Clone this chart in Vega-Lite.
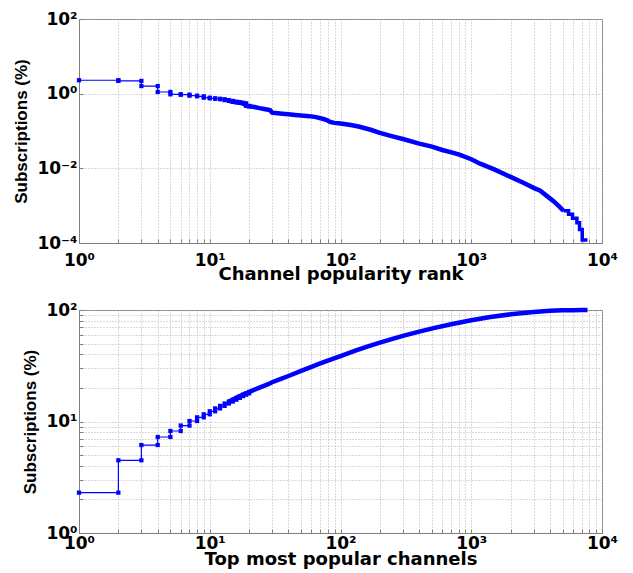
{
  "$schema": "https://vega.github.io/schema/vega-lite/v6.json",
  "background": "white",
  "padding": {"left": 12, "top": 9, "right": 10, "bottom": 0},
  "spacing": 16,
  "config": {
    "view": {"stroke": "#808080", "strokeWidth": 1},
    "axis": {
      "labelFont": "DejaVu Sans", "labelFontWeight": "bold", "labelFontSize": 17, "labelColor": "black",
      "titleFont": "DejaVu Sans", "titleFontWeight": "bold", "titleFontSize": 18, "titleColor": "black",
      "grid": true, "gridColor": "#b4b4b4", "gridDash": [1, 2], "gridWidth": 1,
      "ticks": true, "tickSize": -4, "tickColor": "#808080", "domainColor": "#808080", "labelOverlap": false, "labelFlush": false
    },
    "axisY": {"labelPadding": 6, "titleFont": "Liberation Sans", "titleFontSize": 17, "titlePadding": 6}
  },
  "datasets": {
    "pop": [
      {"rank": 1, "pct": 2.29}, {"rank": 2, "pct": 2.2}, {"rank": 3, "pct": 1.6}, {"rank": 4, "pct": 1.11},
      {"rank": 5, "pct": 0.96}, {"rank": 6, "pct": 0.94}, {"rank": 7, "pct": 0.885}, {"rank": 8, "pct": 0.85},
      {"rank": 9, "pct": 0.78}, {"rank": 10, "pct": 0.75}, {"rank": 11, "pct": 0.73}, {"rank": 12, "pct": 0.71},
      {"rank": 13, "pct": 0.67}, {"rank": 14, "pct": 0.64}, {"rank": 15, "pct": 0.61}, {"rank": 16, "pct": 0.59},
      {"rank": 17, "pct": 0.57}, {"rank": 18, "pct": 0.55}, {"rank": 19, "pct": 0.47}, {"rank": 20, "pct": 0.46},
      {"rank": 22, "pct": 0.44}, {"rank": 24, "pct": 0.41}, {"rank": 26, "pct": 0.39}, {"rank": 28, "pct": 0.37},
      {"rank": 29, "pct": 0.36}, {"rank": 30, "pct": 0.31}, {"rank": 33, "pct": 0.3}, {"rank": 36, "pct": 0.29},
      {"rank": 40, "pct": 0.28}, {"rank": 45, "pct": 0.27}, {"rank": 50, "pct": 0.26}, {"rank": 58, "pct": 0.25},
      {"rank": 65, "pct": 0.235}, {"rank": 74, "pct": 0.21}, {"rank": 80, "pct": 0.19}, {"rank": 83, "pct": 0.175},
      {"rank": 90, "pct": 0.165}, {"rank": 100, "pct": 0.158}, {"rank": 120, "pct": 0.145}, {"rank": 140, "pct": 0.13},
      {"rank": 170, "pct": 0.108}, {"rank": 200, "pct": 0.089}, {"rank": 250, "pct": 0.072}, {"rank": 300, "pct": 0.061},
      {"rank": 400, "pct": 0.046}, {"rank": 500, "pct": 0.038}, {"rank": 600, "pct": 0.031}, {"rank": 730, "pct": 0.026},
      {"rank": 820, "pct": 0.023}, {"rank": 1000, "pct": 0.0175}, {"rank": 1170, "pct": 0.0133}, {"rank": 1500, "pct": 0.0094},
      {"rank": 2000, "pct": 0.0059}, {"rank": 2500, "pct": 0.0041}, {"rank": 3000, "pct": 0.003}, {"rank": 3370, "pct": 0.0025},
      {"rank": 3800, "pct": 0.0018}, {"rank": 4260, "pct": 0.00132}, {"rank": 4700, "pct": 0.00095}, {"rank": 5079, "pct": 0.00073},
      {"rank": 5550, "pct": 0.00059}, {"rank": 5953, "pct": 0.00046}, {"rank": 6430, "pct": 0.00035}, {"rank": 6732, "pct": 0.00023},
      {"rank": 7060, "pct": 0.00012}, {"rank": 7746, "pct": 0.00012}
    ],
    "cum": [
      {"rank": 1, "pct": 2.3}, {"rank": 2, "pct": 4.49}, {"rank": 3, "pct": 6.15}, {"rank": 4, "pct": 7.26},
      {"rank": 5, "pct": 8.22}, {"rank": 6, "pct": 9.2}, {"rank": 7, "pct": 10.1}, {"rank": 8, "pct": 10.9},
      {"rank": 9, "pct": 11.6}, {"rank": 10, "pct": 12.35}, {"rank": 11, "pct": 13.1}, {"rank": 12, "pct": 13.8},
      {"rank": 13, "pct": 14.5}, {"rank": 14, "pct": 15.1}, {"rank": 15, "pct": 15.7}, {"rank": 16, "pct": 16.3},
      {"rank": 17, "pct": 16.9}, {"rank": 18, "pct": 17.4}, {"rank": 19, "pct": 17.9}, {"rank": 20, "pct": 18.4},
      {"rank": 22, "pct": 19.3}, {"rank": 24, "pct": 20.1}, {"rank": 26, "pct": 20.9}, {"rank": 28, "pct": 21.6},
      {"rank": 30, "pct": 22.5}, {"rank": 35, "pct": 24.1}, {"rank": 40, "pct": 25.6}, {"rank": 50, "pct": 28.4},
      {"rank": 60, "pct": 30.9}, {"rank": 70, "pct": 33.2}, {"rank": 80, "pct": 35.2}, {"rank": 100, "pct": 38.6},
      {"rank": 130, "pct": 43.2}, {"rank": 160, "pct": 46.9}, {"rank": 200, "pct": 50.9}, {"rank": 250, "pct": 55.0},
      {"rank": 300, "pct": 58.6}, {"rank": 400, "pct": 63.9}, {"rank": 515, "pct": 68.7}, {"rank": 700, "pct": 74.4},
      {"rank": 1000, "pct": 80.8}, {"rank": 1400, "pct": 86.4}, {"rank": 2000, "pct": 91.5}, {"rank": 3000, "pct": 96},
      {"rank": 4000, "pct": 98.3}, {"rank": 5000, "pct": 99.3}, {"rank": 6000, "pct": 99.7}, {"rank": 7000, "pct": 99.9},
      {"rank": 7746, "pct": 100}
    ]
  },
  "vconcat": [
    {
      "width": 523, "height": 224,
      "data": {"name": "pop"},
      "encoding": {
        "x": {"field": "rank", "type": "quantitative", "title": "Channel popularity rank",
          "scale": {"type": "log", "domain": [1, 10000], "nice": false},
          "axis": {"labelPadding": 13, "titlePadding": -3,
            "values": [1,2,3,4,5,6,7,8,9,10,20,30,40,50,60,70,80,90,100,200,300,400,500,600,700,800,900,1000,2000,3000,4000,5000,6000,7000,8000,9000,10000],
            "labelExpr": "datum.value == 1 ? '10⁰' : datum.value == 10 ? '10¹' : datum.value == 100 ? '10²' : datum.value == 1000 ? '10³' : datum.value == 10000 ? '10⁴' : ''"}},
        "y": {"field": "pct", "type": "quantitative", "title": "Subscriptions (%)",
          "scale": {"type": "log", "domain": [0.0001, 100], "nice": false},
          "axis": {"values": [0.0001, 0.01, 1, 100],
            "labelExpr": "datum.value == 100 ? '10²' : datum.value == 1 ? '10⁰' : datum.value == 0.01 ? '10⁻²' : '10⁻⁴'"}}
      },
      "layer": [
        {"transform": [{"filter": "datum.rank <= 20"}],
          "mark": {"type": "line", "interpolate": "step-after", "color": "#0000ff", "strokeWidth": 1.2}},
        {"transform": [{"filter": "datum.rank >= 14 && datum.rank <= 5079"}],
          "mark": {"type": "line", "color": "#0000ff", "strokeWidth": 4.5}},
        {"transform": [{"filter": "datum.rank >= 5079"}],
          "mark": {"type": "line", "interpolate": "step-after", "color": "#0000ff", "strokeWidth": 3.5}},
        {"transform": [{"filter": "datum.rank <= 20"}],
          "mark": {"type": "square", "color": "#0000ff", "size": 18, "opacity": 1}},
        {"transform": [{"window": [{"op": "lag", "field": "pct", "as": "prev"}], "sort": [{"field": "rank"}]},
            {"filter": "datum.rank <= 20 && datum.prev != null"}],
          "mark": {"type": "square", "color": "#0000ff", "size": 18, "opacity": 1},
          "encoding": {"y": {"field": "prev", "type": "quantitative", "title": "Subscriptions (%)"}}}
      ]
    },
    {
      "width": 523, "height": 223,
      "data": {"name": "cum"},
      "encoding": {
        "x": {"field": "rank", "type": "quantitative", "title": "Top most popular channels",
          "scale": {"type": "log", "domain": [1, 10000], "nice": false},
          "axis": {"labelPadding": 6, "titlePadding": -1,
            "values": [1,2,3,4,5,6,7,8,9,10,20,30,40,50,60,70,80,90,100,200,300,400,500,600,700,800,900,1000,2000,3000,4000,5000,6000,7000,8000,9000,10000],
            "labelExpr": "datum.value == 1 ? '10⁰' : datum.value == 10 ? '10¹' : datum.value == 100 ? '10²' : datum.value == 1000 ? '10³' : datum.value == 10000 ? '10⁴' : ''"}},
        "y": {"field": "pct", "type": "quantitative", "title": "Subscriptions (%)",
          "scale": {"type": "log", "domain": [1, 100], "nice": false},
          "axis": {"values": [1,2,3,4,5,6,7,8,9,10,20,30,40,50,60,70,80,90,100],
            "labelExpr": "datum.value == 100 ? '10²' : datum.value == 10 ? '10¹' : datum.value == 1 ? '10⁰' : ''"}}
      },
      "layer": [
        {"transform": [{"filter": "datum.rank <= 20"}],
          "mark": {"type": "line", "interpolate": "step-after", "color": "#0000ff", "strokeWidth": 1.2}},
        {"transform": [{"filter": "datum.rank >= 14"}],
          "mark": {"type": "line", "color": "#0000ff", "strokeWidth": 4.5}},
        {"transform": [{"filter": "datum.rank <= 20"}],
          "mark": {"type": "square", "color": "#0000ff", "size": 18, "opacity": 1}},
        {"transform": [{"window": [{"op": "lag", "field": "pct", "as": "prev"}], "sort": [{"field": "rank"}]},
            {"filter": "datum.rank <= 20 && datum.prev != null"}],
          "mark": {"type": "square", "color": "#0000ff", "size": 18, "opacity": 1},
          "encoding": {"y": {"field": "prev", "type": "quantitative", "title": "Subscriptions (%)"}}}
      ]
    }
  ]
}
